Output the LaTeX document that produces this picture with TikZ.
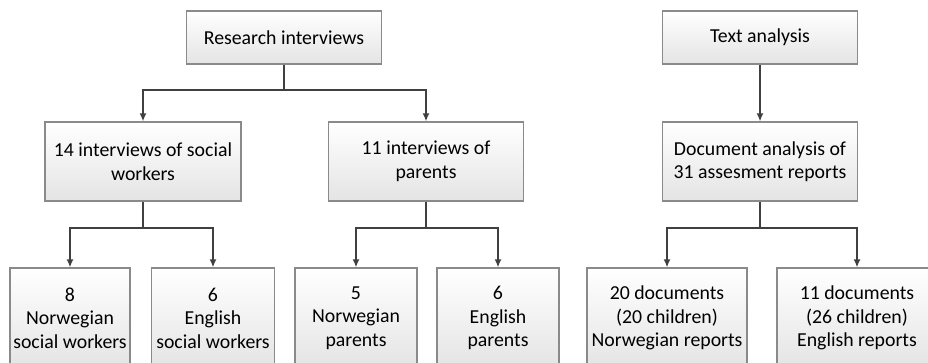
\documentclass[tikz,border=0pt]{standalone}
\usepackage{fontspec}
\setmainfont{Carlito}
\usetikzlibrary{arrows.meta}

\definecolor{boxline}{HTML}{8A8A8A}
\definecolor{boxlow}{HTML}{E4E4E4}
\definecolor{arrline}{HTML}{404040}

\tikzset{
    box/.style={draw=boxline, line width=1.2pt, top color=white, bottom color=boxlow,
        align=center, inner sep=0pt, font=\fontsize{19.8}{23.5}\selectfont},
    arr/.style={draw=arrline, line width=1.8pt, -{Latex[length=8pt,width=7pt]}},
    link/.style={draw=arrline, line width=1.8pt}
}

\begin{document}
\begin{tikzpicture}[x=1pt, y=-1pt]
    % Page
    \useasboundingbox (0,0) rectangle (928,362);
    \clip (0,0) rectangle (928,362);

    % Top boxes
    \node[box, minimum width=195, minimum height=53] (ri) at (284,37.5) {Research interviews};
    \node[box, minimum width=195, minimum height=53] (ta) at (760,37.5) {Text analysis};

    % Middle boxes
    \node[box, minimum width=196, minimum height=79] (sw) at (143,161.5) {14 interviews of social\\workers};
    \node[box, minimum width=195, minimum height=79] (pa) at (426,161.5) {11 interviews of\\parents};
    \node[box, minimum width=195, minimum height=79] (da) at (760,161.5) {Document analysis of\\31 assesment reports};

    % Bottom boxes
    \node[box, minimum width=120, minimum height=100] (nsw) at (70,318) {8\\Norwegian\\social workers};
    \node[box, minimum width=123, minimum height=100] (esw) at (213,318) {6\\English\\social workers};
    \node[box, minimum width=122, minimum height=100] (npa) at (356,318) {5\\Norwegian\\parents};
    \node[box, minimum width=122, minimum height=100] (epa) at (498,318) {6\\English\\parents};
    \node[box, minimum width=160, minimum height=100] (nre) at (667,318) {20 documents\\(20 children)\\Norwegian reports};
    \node[box, minimum width=160, minimum height=100] (ere) at (857,318) {11 documents\\(26 children)\\English reports};

    % Junctions
    \coordinate (j1) at (284,90);
    \coordinate (j2) at (143,228);
    \coordinate (j3) at (426,228);
    \coordinate (j4) at (760,228);

    % Connectors
    \draw[link] (ri.south) -- (j1);
    \draw[arr] (j1) -| (sw.north);
    \draw[arr] (j1) -| (pa.north);
    \draw[arr] (ta.south) -- (da.north);

    \draw[link] (sw.south) -- (j2);
    \draw[arr] (j2) -| (nsw.north);
    \draw[arr] (j2) -| (esw.north);

    \draw[link] (pa.south) -- (j3);
    \draw[arr] (j3) -| (npa.north);
    \draw[arr] (j3) -| (epa.north);

    \draw[link] (da.south) -- (j4);
    \draw[arr] (j4) -| (nre.north);
    \draw[arr] (j4) -| (ere.north);
\end{tikzpicture}
\end{document}
